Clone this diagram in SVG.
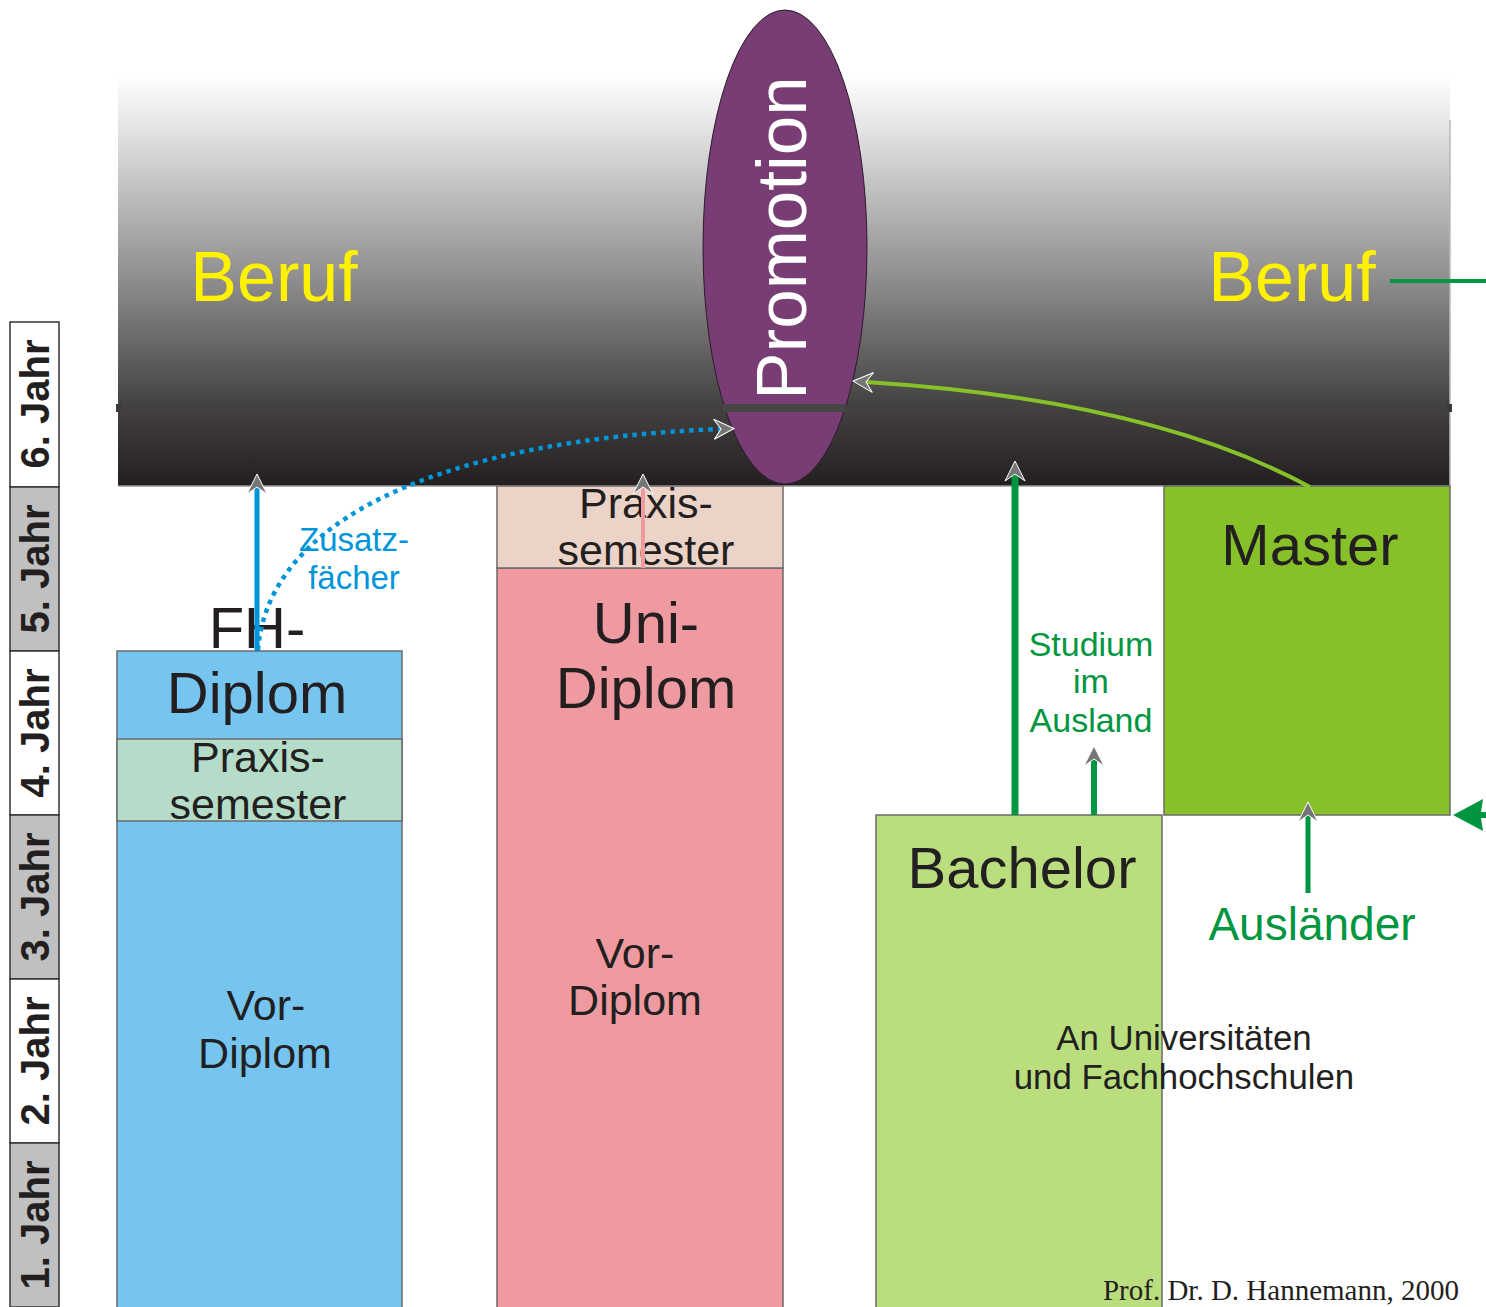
<svg xmlns="http://www.w3.org/2000/svg" width="1486" height="1307" viewBox="0 0 1486 1307">
<style>
.sans{font-family:"Liberation Sans",Arial,sans-serif}
.yr{font-family:"Liberation Sans",Arial,sans-serif;font-weight:bold;font-size:40px;fill:#231f20;text-anchor:middle}
.lbl{font-family:"Liberation Sans",Arial,sans-serif;fill:#231f20;text-anchor:middle}
.big{font-size:58px}
.mid{font-size:43px}
.sm{font-size:33px}
.green{fill:#009640}
.blue{fill:#0095d9}
.box{stroke:#6d6a6a;stroke-width:1.5}
</style>
<defs>
<linearGradient id="g" x1="0" y1="0" x2="0" y2="1">
<stop offset="0" stop-color="#ffffff"/>
<stop offset="0.12" stop-color="#e6e6e6"/>
<stop offset="0.5" stop-color="#8e8c8c"/>
<stop offset="0.8" stop-color="#454242"/>
<stop offset="1" stop-color="#231f20"/>
</linearGradient>
<marker id="ah" viewBox="-9 -12 26 24" refX="0" refY="0" markerWidth="26" markerHeight="24" orient="auto" markerUnits="userSpaceOnUse">
<path d="M13,0 L-7,-10 L0,0 L-7,10 Z" fill="#777676" stroke="#ffffff" stroke-width="1"/>
</marker>
</defs>
<rect width="1486" height="1307" fill="#ffffff"/>

<g id="years">
<rect x="10" y="322" width="49" height="165" fill="#ffffff" stroke="#333" stroke-width="1.5"/>
<rect x="10" y="487" width="49" height="164" fill="#c0c0c0" stroke="#333" stroke-width="1.5"/>
<rect x="10" y="651" width="49" height="164" fill="#ffffff" stroke="#333" stroke-width="1.5"/>
<rect x="10" y="815" width="49" height="164" fill="#c0c0c0" stroke="#333" stroke-width="1.5"/>
<rect x="10" y="979" width="49" height="164" fill="#ffffff" stroke="#333" stroke-width="1.5"/>
<rect x="10" y="1143" width="49" height="164" fill="#c0c0c0" stroke="#333" stroke-width="1.5"/>
<text class="yr" transform="translate(49,404) rotate(-90)">6. Jahr</text>
<text class="yr" transform="translate(49,569) rotate(-90)">5. Jahr</text>
<text class="yr" transform="translate(49,733) rotate(-90)">4. Jahr</text>
<text class="yr" transform="translate(49,897) rotate(-90)">3. Jahr</text>
<text class="yr" transform="translate(49,1061) rotate(-90)">2. Jahr</text>
<text class="yr" transform="translate(49,1225) rotate(-90)">1. Jahr</text>
</g>

<g id="beruf">
<rect x="118" y="75" width="1332" height="411" fill="url(#g)"/>
<line x1="1450" y1="120" x2="1450" y2="486" stroke="#b8b8b8" stroke-width="1.5"/>
<line x1="118" y1="486" x2="1450" y2="486" stroke="#9a9a9a" stroke-width="1.5"/>
<line x1="116" y1="408" x2="121" y2="408" stroke="#3a3838" stroke-width="8"/>
<line x1="1447" y1="408" x2="1452" y2="408" stroke="#3a3838" stroke-width="8"/>
<text class="sans" x="274" y="301" font-size="70" fill="#fff200" text-anchor="middle">Beruf</text>
<text class="sans" x="1292" y="301" font-size="70" fill="#fff200" text-anchor="middle">Beruf</text>
</g>

<g id="promotion">
<ellipse cx="785" cy="247" rx="82" ry="237" fill="#793d75" stroke="#2b1a2a" stroke-width="1"/>
<text class="sans" transform="translate(806,238) rotate(-90)" font-size="71" fill="#ffffff" text-anchor="middle">Promotion</text>
<line x1="723" y1="408" x2="846" y2="408" stroke="#474545" stroke-width="8"/>
</g>

<g id="fh">
<rect class="box" x="117" y="651" width="285" height="660" fill="#75c5f0"/>
<rect class="box" x="117" y="739" width="285" height="82" fill="#b5dcc8"/>
<text class="lbl big" x="257" y="648">FH-</text>
<text class="lbl big" x="257" y="713">Diplom</text>
<text class="lbl mid" x="258" y="772">Praxis-</text>
<text class="lbl mid" x="258" y="819">semester</text>
<text class="lbl mid" x="266" y="1020">Vor-</text>
<text class="lbl mid" x="265" y="1068">Diplom</text>
</g>

<g id="uni">
<rect class="box" x="497" y="568" width="286" height="743" fill="#ef9aa0"/>
<rect class="box" x="497" y="486" width="286" height="82" fill="#ecd3c8"/>
<text class="lbl mid" x="646" y="518">Praxis-</text>
<text class="lbl mid" x="646" y="565">semester</text>
<text class="lbl big" x="646" y="643">Uni-</text>
<text class="lbl big" x="646" y="708">Diplom</text>
<text class="lbl mid" x="635" y="968">Vor-</text>
<text class="lbl mid" x="635" y="1015">Diplom</text>
</g>

<g id="bachelor">
<rect class="box" x="876" y="815" width="286" height="496" fill="#bade7e"/>
<text class="lbl big" x="1022" y="888">Bachelor</text>
</g>

<g id="master">
<rect class="box" x="1164" y="486" width="286" height="329" fill="#86c12a"/>
<text class="lbl big" x="1310" y="565">Master</text>
</g>

<g id="labels">
<text class="lbl" x="1184" y="1050" font-size="34.8">An Universitäten</text>
<text class="lbl" x="1184" y="1089" font-size="34.8">und Fachhochschulen</text>
<text class="lbl sm blue" x="354" y="551">Zusatz-</text>
<text class="lbl sm blue" x="354" y="589">fächer</text>
<text class="lbl green" x="1091" y="656" font-size="34">Studium</text>
<text class="lbl green" x="1091" y="693" font-size="34">im</text>
<text class="lbl green" x="1091" y="732" font-size="34">Ausland</text>
<text class="lbl green" x="1312" y="940" font-size="46">Ausländer</text>
<text x="1459" y="1300" font-family="'Liberation Serif','Times New Roman',serif" font-size="29" fill="#231f20" text-anchor="end">Prof. Dr. D. Hannemann, 2000</text>
</g>

<g id="connectors" fill="none">
<line x1="257" y1="651" x2="257" y2="487" stroke="#0095d9" stroke-width="5" marker-end="url(#ah)"/>
<path d="M258,650 C268,520 440,440 721,429" stroke="#0095d9" stroke-width="4.5" stroke-dasharray="4.5 5" marker-end="url(#ah)"/>
<line x1="643" y1="568" x2="643" y2="487" stroke="#ef9aa0" stroke-width="4" marker-end="url(#ah)"/>
<line x1="1015" y1="815" x2="1015" y2="474" stroke="#009640" stroke-width="7" marker-end="url(#ah)"/>
<line x1="1094" y1="815" x2="1094" y2="759" stroke="#009640" stroke-width="6" marker-end="url(#ah)"/>
<line x1="1308" y1="893" x2="1308" y2="815" stroke="#009640" stroke-width="5" marker-end="url(#ah)"/>
<path d="M1310,487 Q1150,400 866,382" stroke="#86c12a" stroke-width="4" marker-end="url(#ah)"/>
<line x1="1390" y1="281" x2="1486" y2="281" stroke="#009640" stroke-width="4"/>
<polygon points="1453,815 1483,799 1481,812 1486,812 1486,818 1481,818 1483,831" fill="#009640" stroke="none"/>
</g>
</svg>
